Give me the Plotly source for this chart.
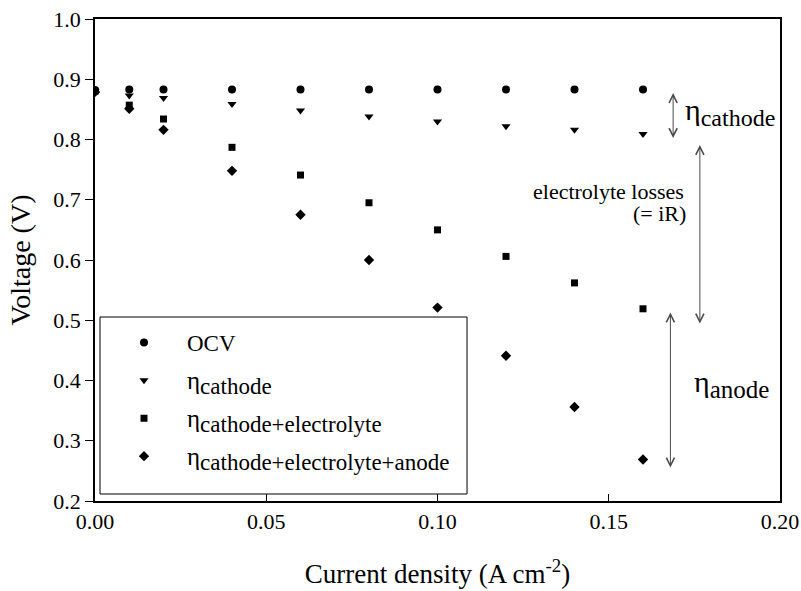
import plotly.graph_objects as go

current = [0.0, 0.01, 0.02, 0.04, 0.06, 0.08, 0.10, 0.12, 0.14, 0.16]
ocv = [0.882, 0.883, 0.883, 0.883, 0.883, 0.883, 0.883, 0.883, 0.883, 0.883]
eta_cathode = [0.880, 0.873, 0.869, 0.859, 0.848, 0.838, 0.830, 0.822, 0.816, 0.809]
eta_cat_el = [0.880, 0.857, 0.834, 0.787, 0.741, 0.695, 0.650, 0.606, 0.562, 0.519]
eta_cat_el_an = [0.879, 0.851, 0.816, 0.748, 0.675, 0.600, 0.521, 0.441, 0.356, 0.269]

PAD = "\u00a0\u00a0\u00a0\u00a0"
series_names = [
    PAD + "OCV",
    PAD + "<span style='font-size:25px'>η</span><sub><span style='font-size:23px'>cathode</span></sub>",
    PAD + "<span style='font-size:25px'>η</span><sub><span style='font-size:23px'>cathode+electrolyte</span></sub>",
    PAD + "<span style='font-size:25px'>η</span><sub><span style='font-size:23px'>cathode+electrolyte+anode</span></sub>",
]
series_values = [ocv, eta_cathode, eta_cat_el, eta_cat_el_an]
series_symbols = ["circle", "triangle-down", "square", "diamond"]
series_sizes = [8, 8, 7, 8]

x_ticks = [0.0, 0.05, 0.10, 0.15, 0.20]
x_tick_labels = ["0.00", "0.05", "0.10", "0.15", "0.20"]
y_ticks = [0.2, 0.3, 0.4, 0.5, 0.6, 0.7, 0.8, 0.9, 1.0]
y_tick_labels = ["0.2", "0.3", "0.4", "0.5", "0.6", "0.7", "0.8", "0.9", "1.0"]

FONT = "Liberation Serif"
ARROW = "#4a4a4a"

fig = go.Figure()
for i, (name, vals, sym, sz) in enumerate(zip(series_names, series_values, series_symbols, series_sizes)):
    fig.add_trace(go.Scatter(
        x=current, y=vals, mode="markers", name=name,
        legendgroup=f"g{i}",
        marker=dict(symbol=sym, size=sz, color="black", line=dict(width=0)),
    ))

# double-headed arrows (x, y_top, y_bottom)
arrows = [
    (0.1688, 0.877, 0.800),
    (0.1766, 0.791, 0.492),
    (0.1680, 0.513, 0.253),
]
annotations = []
for ax_, ytop, ybot in arrows:
    annotations.append(dict(
        x=ax_, y=ytop, ax=ax_, ay=ybot, xref="x", yref="y", axref="x", ayref="y",
        text="", showarrow=True, arrowhead=5, startarrowhead=5, arrowside="end+start",
        arrowsize=1.6, startarrowsize=1.6, arrowwidth=1, arrowcolor=ARROW,
    ))

annotations += [
    dict(x=0.1718, y=0.845, xref="x", yref="y", xanchor="left", yanchor="middle",
         text="η<sub><span style='font-size:24px'>cathode</span></sub>", showarrow=False,
         font=dict(family=FONT, size=30, color="black")),
    dict(x=0.1725, y=0.713, xref="x", yref="y", xanchor="right", yanchor="middle",
         text="electrolyte losses", showarrow=False,
         font=dict(family=FONT, size=22, color="black")),
    dict(x=0.1731, y=0.677, xref="x", yref="y", xanchor="right", yanchor="middle",
         text="(= iR)", showarrow=False,
         font=dict(family=FONT, size=22, color="black")),
    dict(x=0.1742, y=0.395, xref="x", yref="y", xanchor="left", yanchor="middle",
         text="η<sub><span style='font-size:25px'>anode</span></sub>", showarrow=False,
         font=dict(family=FONT, size=30, color="black")),
]

# legend frame (paper coordinates)
shapes = [dict(
    type="rect", xref="paper", yref="paper",
    x0=0.0073, x1=0.5431, y0=0.0145, y1=0.3817,
    line=dict(color="black", width=1), fillcolor="white", layer="above",
)]

fig.update_layout(
    width=801, height=591,
    margin=dict(l=95, r=21, t=19, b=90, autoexpand=False),
    paper_bgcolor="white", plot_bgcolor="white",
    font=dict(family=FONT, size=22, color="black"),
    showlegend=True,
    legend=dict(
        x=0.0073, y=0.3734, xanchor="left", yanchor="top",
        borderwidth=0, bgcolor="rgba(0,0,0,0)",
        font=dict(family=FONT, size=23, color="black"),
        tracegroupgap=5, indentation=24,
    ),
    annotations=annotations,
    shapes=shapes,
    xaxis=dict(
        range=[0, 0.2], tickvals=x_ticks, ticktext=x_tick_labels,
        ticks="inside", ticklen=7, tickwidth=1, tickcolor="black",
        showline=True, linecolor="black", linewidth=1.5, mirror=True,
        showgrid=False, zeroline=False, automargin=False,
        title=dict(text="Current density (A cm<sup>-2</sup>)", standoff=31,
                   font=dict(family=FONT, size=27)),
        tickfont=dict(family=FONT, size=22),
    ),
    yaxis=dict(
        range=[0.2, 1.0], tickvals=y_ticks, ticktext=y_tick_labels,
        ticks="outside", ticklen=8, tickwidth=1, tickcolor="black",
        showline=True, linecolor="black", linewidth=1.5, mirror=True,
        showgrid=False, zeroline=False, automargin=False,
        title=dict(text="Voltage (V)", standoff=15, font=dict(family=FONT, size=28)),
        tickfont=dict(family=FONT, size=22),
    ),
)

fig.write_html("out.html")
